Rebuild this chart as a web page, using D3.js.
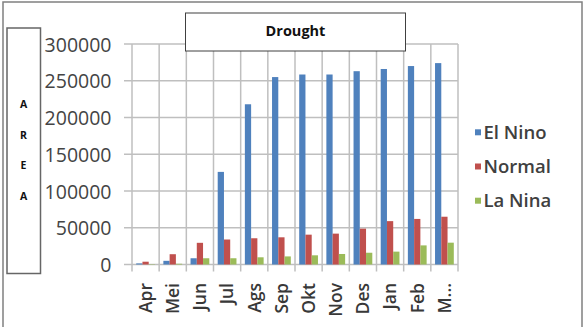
<!DOCTYPE html>
<html>
<head>
<meta charset="utf-8">
<script src="https://cdn.jsdelivr.net/npm/d3@7"></script>
<style>
  html, body { margin: 0; padding: 0; background: #fff; }
  svg { display: block; }
</style>
</head>
<body>
<svg id="chart" width="587" height="327"></svg>
<script>
const months = ["Apr","Mei","Jun","Jul","Ags","Sep","Okt","Nov","Des","Jan","Feb","M..."];
const seriesNames = ["El Nino","Normal","La Nina"];
const elNino = [1500, 5000, 8500, 126000, 218000, 255000, 258500, 258500, 263000, 266000, 270000, 274000];
const normal = [3800, 14000, 29500, 34000, 35700, 37000, 40600, 42000, 48800, 59000, 62000, 65000];
const laNina = [500, 1000, 8500, 8500, 9800, 11000, 12500, 14300, 16000, 17500, 26000, 29700];
const yTicks = [0, 50000, 100000, 150000, 200000, 250000, 300000];
const colors = ["#4f81bd", "#c0504d", "#9bbb59"];
const titleText = "Drought";
const axisTitleLetters = ["A","R","E","A"];

(function () {
const seriesValues = [elNino, normal, laNina];
const svg = d3.select("#chart");

svg.append("path")
  .attr("d", "M3,327 L3,2 L582,2 L582,327")
  .attr("fill", "none").attr("stroke", "#808080").attr("stroke-width", 1.5);

const pLeft = 132, pRight = 458, pTop = 44, pBottom = 264.5;

const x0 = d3.scaleBand().domain(months).range([pLeft, pRight]).paddingInner(0).paddingOuter(0);
const x1 = d3.scaleBand().domain(seriesNames).range([4.2, x0.bandwidth() - 4.2]).padding(0);
const y = d3.scaleLinear().domain([0, 300000]).range([pBottom, pTop]);

const grid = svg.append("g");
grid.selectAll("line.h").data(yTicks).join("line")
  .attr("x1", pLeft - 8).attr("x2", pRight)
  .attr("y1", d => y(d)).attr("y2", d => y(d))
  .attr("stroke", "#bfbfbf").attr("stroke-width", 1.5);
const bounds = months.map(m => x0(m)).concat([pRight]);
grid.selectAll("line.v").data(bounds).join("line")
  .attr("x1", d => d).attr("x2", d => d)
  .attr("y1", pTop).attr("y2", pBottom + 7)
  .attr("stroke", "#bfbfbf").attr("stroke-width", 1.5);

const groups = svg.append("g").selectAll("g").data(months).join("g")
  .attr("transform", d => `translate(${x0(d)},0)`);
groups.selectAll("rect").data((m, i) => seriesNames.map((s, k) => ({s, v: seriesValues[k][i], k})))
  .join("rect")
  .attr("x", d => x1(d.s))
  .attr("width", x1.bandwidth())
  .attr("y", d => y(d.v))
  .attr("height", d => pBottom - y(d.v))
  .attr("fill", d => colors[d.k]);

const yAxis = d3.axisLeft(y).tickValues(yTicks).tickSize(0).tickPadding(0).tickFormat(d3.format("d"));
const yg = svg.append("g").attr("transform", `translate(${pLeft - 20.5},0)`).call(yAxis);
yg.select(".domain").remove();
yg.selectAll("text")
  .attr("font-family", "'Open Sans', sans-serif").attr("font-size", 19.5)
  .attr("font-weight", 500)
  .attr("fill", "#444").attr("dy", "0.36em");

const xAxis = d3.axisBottom(x0).tickSize(0).tickPadding(0);
const xg = svg.append("g").attr("transform", `translate(0,${pBottom + 18.5})`).call(xAxis);
xg.select(".domain").remove();
xg.selectAll("text")
  .attr("font-family", "'Open Sans', sans-serif").attr("font-size", 17.5)
  .attr("font-weight", 600)
  .attr("fill", "#383838")
  .attr("text-anchor", "end")
  .attr("transform", "rotate(-90)")
  .attr("x", 0).attr("y", 0).attr("dy", "0.36em");

svg.append("rect").attr("x", 185.5).attr("y", 13).attr("width", 220).attr("height", 38)
  .attr("fill", "#fff").attr("stroke", "#404040").attr("stroke-width", 1);
svg.append("text").attr("x", 295.5).attr("y", 35.5).attr("text-anchor", "middle")
  .attr("font-family", "'Open Sans', sans-serif").attr("font-size", 14.5).attr("font-weight", 700)
  .attr("fill", "#111").text(titleText);

svg.append("rect").attr("x", 7).attr("y", 28).attr("width", 33.5).attr("height", 245.5)
  .attr("fill", "#fff").attr("stroke", "#666").attr("stroke-width", 1.5);
svg.append("g").selectAll("text").data(axisTitleLetters).join("text")
  .attr("x", 23.5).attr("y", (d, i) => 104.5 + i * 30.5).attr("dy", "0.35em")
  .attr("text-anchor", "middle")
  .attr("font-family", "'Open Sans', sans-serif").attr("font-size", 10.5).attr("font-weight", 700)
  .attr("fill", "#111").text(d => d);

const legend = svg.append("g").selectAll("g").data(seriesNames).join("g")
  .attr("transform", (d, i) => `translate(475,${132.3 + i * 34.2})`);
legend.append("rect").attr("x", 0).attr("y", -3).attr("width", 6).attr("height", 6)
  .attr("fill", (d, i) => colors[i]);
legend.append("text").attr("x", 8.5).attr("y", 0).attr("dy", "0.36em")
  .attr("font-family", "'Open Sans', sans-serif").attr("font-size", 18.5).attr("font-weight", 600)
  .attr("fill", "#404040").text(d => d);
})();
</script>
</body>
</html>
